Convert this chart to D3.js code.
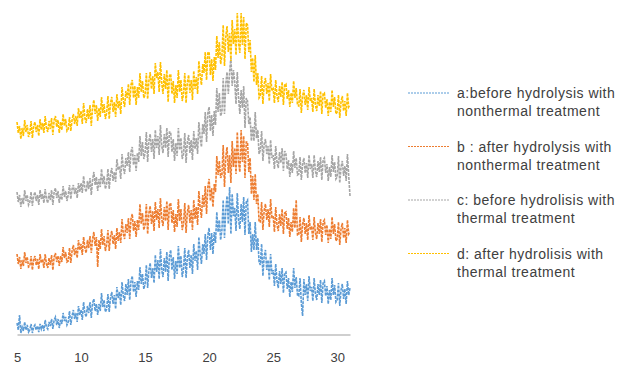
<!DOCTYPE html>
<html>
<head>
<meta charset="utf-8">
<script src="https://cdn.jsdelivr.net/npm/d3@7/dist/d3.min.js"></script>
<style>
  html, body { margin: 0; padding: 0; background: #fff; }
  svg { display: block; }
</style>
</head>
<body>
<svg id="chart" width="618" height="367"></svg>
<script>
// XRD patterns, 2θ from 5 to 31 in 0.1 steps (intensity in arbitrary offset units)
const twoThetaStart = 5
const twoThetaStep  = 0.1
const xTicks = [5, 10, 15, 20, 25, 30]

const seriesNames = [
  ['a:before hydrolysis with', 'nonthermal treatment'],
  ['b :  after hydrolysis with', 'nonthermal treatment'],
  ['c:  before hydrolisis with', 'thermal treatment'],
  ['d:  after hydrolisis with', 'thermal treatment']
]
const seriesColors = ['#5b9bd5', '#ed7d31', '#a5a5a5', '#ffc000']

// one row per degree of 2θ
const seriesA = [
  11,4,19,1,7,3,12,4,9,2,
  4,10,1,7,9,4,8,2,10,5,
  9,3,14,7,5,12,8,15,5,14,
  17,9,15,6,14,10,21,13,17,9,
  12,23,9,18,24,15,21,12,28,19,
  24,14,32,21,17,28,21,32,16,31,
  35,23,30,19,30,23,41,27,34,22,
  25,40,22,36,42,30,39,25,47,36,
  42,29,52,38,33,50,39,55,34,53,
  58,42,52,37,53,44,67,50,60,45,
  50,69,46,64,71,56,66,51,79,62,
  74,55,85,64,57,76,62,82,53,78,
  84,64,77,55,73,60,88,66,78,57,
  65,86,56,77,84,66,79,60,90,73,
  83,64,97,80,70,90,80,100,74,99,
  106,84,101,80,102,91,122,102,114,94,
  104,134,96,124,138,110,147,100,140,118,
  126,103,141,114,105,130,112,137,99,132,
  134,100,112,82,100,84,112,84,96,72,
  69,90,58,78,84,64,74,54,80,60,
  64,48,70,53,46,63,50,66,41,61,
  62,45,56,37,52,42,66,46,57,39,
  38,56,31,18,55,39,50,33,58,43,
  47,33,56,40,34,50,39,54,31,51,
  53,38,48,30,44,34,56,39,49,32,
  34,51,28,44,50,35,45,30,53,39,
  46
]
const seriesB = [
  80,70,77,65,74,68,82,71,77,67,
  68,78,64,74,78,69,75,65,80,71,
  75,66,80,70,66,76,69,79,64,77,
  81,72,78,68,78,72,87,76,82,72,
  73,86,71,83,89,79,86,76,94,84,
  90,79,97,86,81,94,86,98,81,95,
  102,88,97,67,94,85,105,89,98,83,
  89,104,83,98,103,90,99,85,106,93,
  102,91,115,100,95,110,101,116,95,115,
  120,103,113,97,114,104,130,110,121,104,
  109,130,100,121,128,110,123,103,132,114,
  125,106,136,115,108,127,113,133,104,129,
  131,111,124,102,120,107,135,113,125,104,
  110,131,101,122,129,111,124,104,134,115,
  127,109,143,126,116,139,127,148,120,147,
  155,133,146,127,150,142,178,159,173,156,
  159,189,147,177,187,161,179,151,193,167,
  186,160,202,172,162,204,172,198,156,192,
  192,162,176,140,158,134,160,130,140,112,
  112,132,104,124,130,114,125,107,135,117,
  118,102,127,109,103,120,108,125,100,121,
  122,105,116,97,112,102,126,106,134,99,
  99,117,92,110,116,100,111,94,119,104,
  108,94,117,101,95,111,100,115,92,112,
  114,99,109,91,105,95,117,100,110,93,
  95,112,89,105,111,96,106,91,114,100,
  102
]
const seriesC = [
  142,132,139,127,136,130,144,133,139,129,
  132,142,128,138,142,133,139,129,144,135,
  140,131,145,135,131,141,134,144,129,142,
  146,136,143,131,140,134,148,137,143,133,
  139,149,135,145,149,140,146,136,151,142,
  151,141,158,146,142,153,145,156,139,154,
  162,149,157,143,155,147,165,150,158,145,
  150,165,145,160,166,153,162,152,175,164,
  168,155,180,166,160,176,168,182,162,182,
  187,169,179,163,181,172,198,178,192,175,
  181,202,172,193,200,182,195,175,204,186,
  198,179,209,188,181,200,186,206,177,202,
  202,182,195,173,191,178,206,184,196,175,
  180,201,171,192,199,181,194,174,203,185,
  196,180,212,196,187,210,200,222,192,221,
  227,203,219,198,223,209,246,222,241,218,
  222,256,220,250,262,240,262,276,248,264,
  252,230,262,236,220,244,226,248,206,236,
  233,210,217,193,207,193,222,196,204,180,
  184,203,173,190,195,180,188,170,194,176,
  179,165,188,172,166,182,171,186,163,183,
  180,165,174,157,171,161,183,166,176,159,
  160,177,154,170,176,161,171,156,179,165,
  170,156,179,163,157,173,162,177,154,174,
  176,161,170,153,167,157,179,162,172,155,
  157,178,151,167,173,158,168,153,180,158,
  138
]
const seriesD = [
  212,201,208,195,206,198,214,202,209,197,
  201,213,196,208,212,202,209,198,215,204,
  211,201,218,206,202,213,205,216,199,214,
  218,207,214,201,212,204,220,208,215,203,
  205,217,203,214,220,210,218,208,226,216,
  223,210,231,216,211,225,215,229,208,226,
  234,220,229,213,226,217,237,221,230,215,
  221,238,215,231,237,222,232,217,240,226,
  233,220,247,234,227,243,236,250,229,249,
  254,236,248,229,247,236,261,242,253,236,
  239,261,235,253,262,245,258,240,271,256,
  262,242,272,251,240,260,245,264,232,258,
  260,240,253,231,249,236,264,242,254,233,
  240,261,231,252,259,241,254,234,263,245,
  257,240,273,258,249,270,261,282,254,281,
  282,259,275,253,277,264,298,276,292,270,
  278,309,268,297,308,282,301,273,314,290,
  305,279,321,291,281,321,289,317,275,311,
  309,282,294,262,276,252,279,249,261,236,
  238,258,230,250,256,240,251,233,260,243,
  245,231,254,238,232,248,237,252,229,249,
  250,235,244,227,241,231,253,236,246,229,
  228,245,221,238,244,229,239,224,247,233,
  236,222,245,229,223,239,228,243,220,240,
  241,226,235,218,232,222,244,227,237,220,
  222,239,216,232,238,223,233,218,241,227,
  229
]
const allSeries = [seriesA, seriesB, seriesC, seriesD]

const svg = d3.select('#chart')

const x = d3.scaleLinear().domain([5, 31]).range([17, 350])
const y = d3.scaleLinear().domain([0, 330]).range([334, 4])

// series lines
const line = d3.line()
  .x((d, i) => x(twoThetaStart + i * twoThetaStep))
  .y(d => y(d))

svg.append('g')
  .selectAll('path')
  .data(allSeries)
  .enter()
  .append('path')
  .attr('d', d => line(d))
  .attr('fill', 'none')
  .attr('stroke', (d, i) => seriesColors[i])
  .attr('stroke-width', 1.6)
  .attr('stroke-dasharray', '3,1')

// x axis
const xAxis = svg.append('g')
  .attr('transform', `translate(0,${y(0) + 0.5})`)
  .call(d3.axisBottom(x).tickValues(xTicks).tickSize(0).tickPadding(18))

xAxis.select('.domain').attr('stroke', '#bfbfbf').attr('stroke-width', 1.3)
xAxis.selectAll('text')
  .attr('fill', '#404040')
  .attr('font-size', '13px')
  .attr('font-family', "'Liberation Sans', Arial, sans-serif")

// legend
const legend = svg.append('g')
  .selectAll('g')
  .data(seriesNames)
  .enter()
  .append('g')
  .attr('transform', (d, i) => `translate(408,${93 + i * 53.5})`)

legend.append('line')
  .attr('x1', 0).attr('x2', 42)
  .attr('y1', 0).attr('y2', 0)
  .attr('stroke', (d, i) => seriesColors[i])
  .attr('stroke-width', 1.2)
  .attr('stroke-dasharray', '2,1')

legend.append('text')
  .attr('x', 49)
  .attr('y', 5)
  .attr('fill', '#404040')
  .attr('font-size', '14px')
  .attr('letter-spacing', '0.5px')
  .attr('font-family', "'Liberation Sans', Arial, sans-serif")
  .selectAll('tspan')
  .data(d => d)
  .enter()
  .append('tspan')
  .attr('x', 49)
  .attr('dy', (d, i) => i === 0 ? 0 : 18)
  .text(d => d)
</script>
</body>
</html>
